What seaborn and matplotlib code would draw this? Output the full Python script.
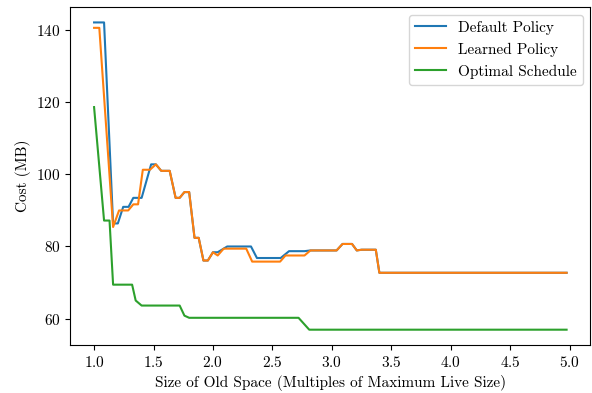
import matplotlib
matplotlib.use("Agg")
import matplotlib.pyplot as plt
import seaborn as sns
import pandas as pd

default_x = [1.0, 1.084, 1.16, 1.20, 1.245, 1.29, 1.33, 1.40, 1.48, 1.52, 1.565, 1.636, 1.686, 1.72,
             1.76, 1.80, 1.845, 1.88, 1.92, 1.957, 2.0, 2.04, 2.12, 2.32, 2.37, 2.57, 2.64, 2.77,
             2.82, 3.04, 3.09, 3.17, 3.21, 3.25, 3.37, 3.40, 4.975]
default_y = [142.2, 142.2, 86.4, 86.4, 91.0, 91.0, 93.5, 93.5, 102.8, 102.8, 101.0, 101.0, 93.5, 93.5,
             95.1, 95.1, 82.4, 82.4, 76.1, 76.1, 78.4, 78.4, 80.0, 80.0, 76.8, 76.8, 78.7, 78.7,
             78.9, 78.9, 80.7, 80.7, 78.9, 79.1, 79.1, 72.7, 72.7]

learned_x = [1.0, 1.044, 1.16, 1.21, 1.287, 1.33, 1.37, 1.41, 1.47, 1.52, 1.565, 1.636, 1.686, 1.72,
             1.76, 1.80, 1.845, 1.88, 1.92, 1.957, 2.0, 2.04, 2.09, 2.28, 2.33, 2.565, 2.61, 2.77,
             2.82, 3.04, 3.09, 3.17, 3.21, 3.25, 3.37, 3.40, 4.975]
learned_y = [140.7, 140.7, 85.4, 90.0, 90.0, 91.7, 91.7, 101.3, 101.3, 102.8, 101.0, 101.0, 93.5, 93.5,
             95.1, 95.1, 82.4, 82.4, 76.1, 76.1, 78.4, 77.5, 79.4, 79.4, 75.8, 75.8, 77.5, 77.5,
             78.9, 78.9, 80.7, 80.7, 78.9, 79.1, 79.1, 72.7, 72.7]

optimal_x = [1.0, 1.084, 1.13, 1.16, 1.32, 1.35, 1.40, 1.72, 1.76, 1.80, 2.72, 2.81, 4.975]
optimal_y = [118.7, 87.2, 87.2, 69.4, 69.4, 65.0, 63.6, 63.6, 60.8, 60.2, 60.2, 56.9, 56.9]

series_names = ["Default Policy", "Learned Policy", "Optimal Schedule"]
x_label = "Size of Old Space (Multiples of Maximum Live Size)"
y_label = "Cost (MB)"

frames = []
for name, xs, ys in zip(series_names, [default_x, learned_x, optimal_x],
                        [default_y, learned_y, optimal_y]):
    frames.append(pd.DataFrame({"x": xs, "y": ys, "series": name}))
df = pd.concat(frames, ignore_index=True)

plt.rcParams["font.family"] = ["cmr10", "DejaVu Serif"]
plt.rcParams["mathtext.fontset"] = "cm"
plt.rcParams["axes.formatter.use_mathtext"] = True
plt.rcParams["axes.unicode_minus"] = False
plt.rcParams["font.size"] = 11

fig, ax = plt.subplots(figsize=(5.92, 3.93), dpi=100)
sns.lineplot(data=df, x="x", y="y", hue="series", hue_order=series_names,
             palette=["#1f77b4", "#ff7f0e", "#2ca02c"], estimator=None, sort=False,
             linewidth=1.5, ax=ax)
ax.set_xlabel(x_label, fontsize=11)
ax.set_ylabel(y_label, fontsize=11)
ax.set_xticks([1.0, 1.5, 2.0, 2.5, 3.0, 3.5, 4.0, 4.5, 5.0])
ax.set_yticks([60, 80, 100, 120, 140])
ax.tick_params(labelsize=11)
ax.legend(loc="upper right", fontsize=11, title=None)
fig.subplots_adjust(left=0.119, right=0.997, top=0.982, bottom=0.122)
fig.savefig("out.png", dpi=100)
